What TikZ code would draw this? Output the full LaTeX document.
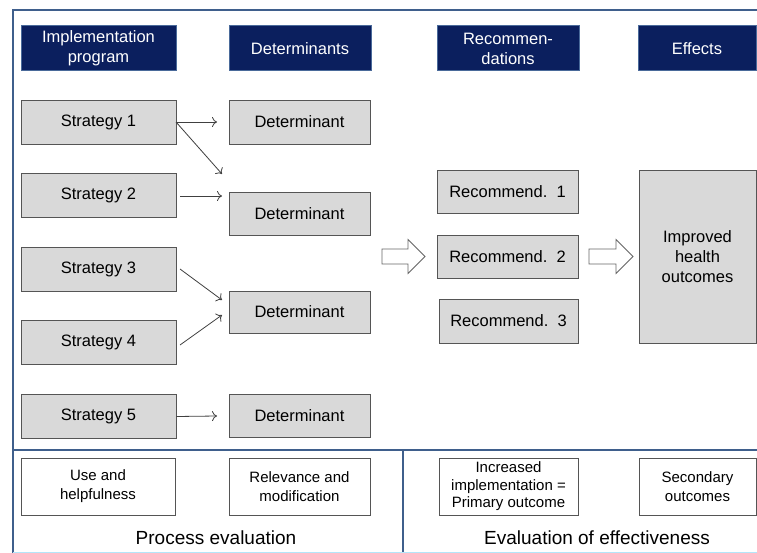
\documentclass[tikz,border=0pt]{standalone}
\usepackage{fontspec}
\setmainfont{Liberation Sans}
\usetikzlibrary{arrows.meta}
\definecolor{navy}{HTML}{0B1F5E}
\definecolor{navyedge}{HTML}{4A6A9A}
\definecolor{frame}{HTML}{3F5F8C}
\definecolor{boxfill}{HTML}{D9D9D9}
\definecolor{boxedge}{HTML}{555555}
\tikzset{
  hdr/.style={draw=navyedge, line width=1pt, fill=navy, text=white, inner sep=0pt, align=center,
    font=\fontsize{16.5}{20}\selectfont},
  graybox/.style={draw=boxedge, line width=0.9pt, fill=boxfill, inner sep=0pt, align=center,
    font=\fontsize{16.5}{20}\selectfont},
  whitebox/.style={draw=boxedge, line width=0.9pt, fill=white, inner sep=0pt, align=center,
    font=\fontsize{15}{18}\selectfont},
  conn/.style={draw=black!75, line width=0.8pt, -{To[length=5pt,width=10pt]}},
  blockarrow/.style={draw=gray!80!black, line width=0.8pt, fill=white, line join=miter},
  framel/.style={draw=frame, line width=2pt},
  sectionlabel/.style={font=\fontsize{19}{22}\selectfont, inner sep=0pt}
}
\begin{document}
\begin{tikzpicture}[x=1pt,y=-1pt]
\useasboundingbox[fill=white] (0,0) rectangle (757,553);
% frame
\draw[framel] (757,10) -- (13,10) -- (13,553);
\draw[framel] (13,450) -- (757,450);
\draw[framel] (403,450) -- (403,553);
\draw[draw=cyan!30, line width=1pt] (13,552.5) -- (757,552.5);
% headers
\node[hdr, minimum width=155pt, minimum height=45pt] (h1) at (98.5,48.5) {Implementation\\program};
\node[hdr, minimum width=142pt, minimum height=45pt] (h2) at (300,48.5) {Determinants};
\node[hdr, minimum width=142pt, minimum height=45pt] (h3) at (508,48.5) {Recommen-\\dations};
\node[hdr, minimum width=118pt, minimum height=45pt] (h4) at (697,48.5) {Effects};
% strategies
\node[graybox, minimum width=155pt, minimum height=44pt] (s1) at (98.5,122) {Strategy 1};
\node[graybox, minimum width=155pt, minimum height=44pt] (s2) at (98.5,195) {Strategy 2};
\node[graybox, minimum width=155pt, minimum height=44pt] (s3) at (98.5,269) {Strategy 3};
\node[graybox, minimum width=155pt, minimum height=44pt] (s4) at (98.5,342.5) {Strategy 4};
\node[graybox, minimum width=155pt, minimum height=44pt] (s5) at (98.5,416.5) {Strategy 5};
% determinants
\node[graybox, minimum width=141pt, minimum height=44pt] (d1) at (299.5,122) {Determinant};
\node[graybox, minimum width=141pt, minimum height=43pt] (d2) at (299.5,213.5) {Determinant};
\node[graybox, minimum width=141pt, minimum height=42pt] (d3) at (299.5,312) {Determinant};
\node[graybox, minimum width=141pt, minimum height=43pt] (d4) at (299.5,415.5) {Determinant};
% recommendations
\node[graybox, minimum width=141pt, minimum height=43pt] (r1) at (507.5,191.5) {Recommend.\ \ 1};
\node[graybox, minimum width=141pt, minimum height=43pt] (r2) at (507.5,256.5) {Recommend.\ \ 2};
\node[graybox, minimum width=139pt, minimum height=44pt] (r3) at (508.5,321) {Recommend.\ \ 3};
\node[graybox, minimum width=117pt, minimum height=173pt] (imp) at (697.5,256.5) {Improved\\health\\outcomes};
% connector endpoints
\coordinate (a1s) at (176,122);
\coordinate (a1e) at (217,122);
\coordinate (a2e) at (222,174);
\coordinate (a3s) at (180,196);
\coordinate (a3e) at (222,196);
\coordinate (a4s) at (180,269);
\coordinate (a4e) at (222,300);
\coordinate (a5s) at (180,345);
\coordinate (a5e) at (222,315);
\coordinate (a6e) at (217,416);
\draw[conn] (a1s) -- (a1e);
\draw[conn] (a1s) -- (a2e);
\draw[conn] (a3s) -- (a3e);
\draw[conn] (a4s) -- (a4e);
\draw[conn] (a5s) -- (a5e);
\draw[conn] (s5.east) -- (a6e);
% block arrows
\draw[blockarrow] (382,249) -- (408,249) -- (408,239.5) -- (425,256.5) -- (408,273.5) -- (408,264) -- (382,264) -- cycle;
\draw[blockarrow] (589,249) -- (616,249) -- (616,239.5) -- (633,256.5) -- (616,273.5) -- (616,264) -- (589,264) -- cycle;
% bottom boxes
\node[whitebox, minimum width=154pt, minimum height=57pt] (b1) at (98,486.5) {Use and\\[1pt]helpfulness};
\node[whitebox, minimum width=141pt, minimum height=57pt] (b2) at (299.5,486.5) {Relevance and\\[1pt]modification};
\node[whitebox, minimum width=139pt, minimum height=57pt, font=\fontsize{15}{17.5}\selectfont] (b3) at (508.5,486.5) {Increased\\implementation =\\Primary outcome};
\node[whitebox, minimum width=117pt, minimum height=57pt] (b4) at (697.5,486.5) {Secondary\\[1pt]outcomes};
\node[sectionlabel] (pe) at (216,538) {Process evaluation};
\node[sectionlabel] (ee) at (597,538) {Evaluation of effectiveness};
\end{tikzpicture}
\end{document}
